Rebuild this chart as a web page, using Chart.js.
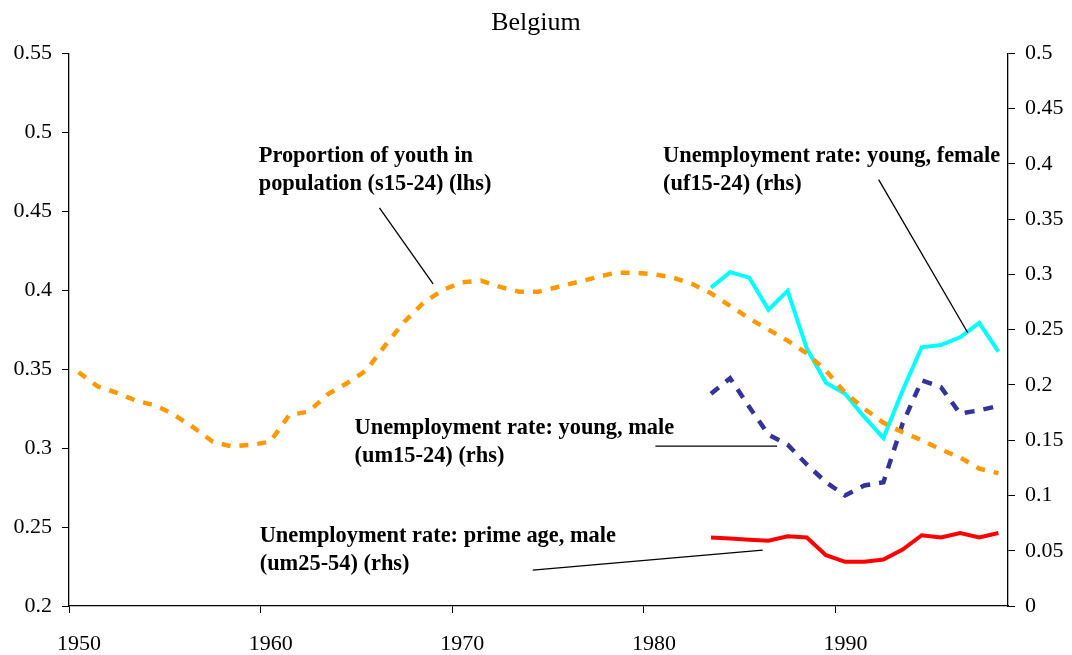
<!DOCTYPE html>
<html>
<head>
<meta charset="utf-8">
<title>Belgium</title>
<script src="https://cdn.jsdelivr.net/npm/chart.js"></script>
<style>
  body { margin: 0; background: #fff; }
  #wrap { width: 1072px; height: 655px; }
</style>
</head>
<body>
<div id="wrap"><canvas id="chart" width="1072" height="655"></canvas></div>
<script>
// Years and series
const youthYears = [1950, 1951, 1952, 1953, 1954, 1955, 1956, 1957, 1958, 1959,
  1960, 1961, 1962, 1963, 1964, 1965, 1966, 1967, 1968, 1969,
  1970, 1971, 1972, 1973, 1974, 1975, 1976, 1977, 1978, 1979,
  1980, 1981, 1982, 1983, 1984, 1985, 1986, 1987, 1988, 1989,
  1990, 1991, 1992, 1993, 1994, 1995, 1996, 1997, 1998];
const youthShare = [0.348, 0.339, 0.335, 0.330, 0.327, 0.321, 0.313, 0.304, 0.301, 0.302,
  0.304, 0.321, 0.323, 0.334, 0.341, 0.349, 0.365, 0.380, 0.392, 0.400,
  0.405, 0.406, 0.402, 0.399, 0.399, 0.402, 0.405, 0.408, 0.411, 0.411,
  0.410, 0.408, 0.404, 0.398, 0.390, 0.382, 0.375, 0.368, 0.360, 0.349,
  0.335, 0.325, 0.316, 0.310, 0.305, 0.299, 0.294, 0.287, 0.284];

const unempYears = [1983, 1984, 1985, 1986, 1987, 1988, 1989, 1990,
  1991, 1992, 1993, 1994, 1995, 1996, 1997, 1998];
const uf1524 = [0.288, 0.302, 0.297, 0.268, 0.285, 0.233, 0.202, 0.192,
  0.171, 0.152, 0.195, 0.234, 0.236, 0.243, 0.256, 0.230];
const um1524 = [0.192, 0.206, 0.180, 0.155, 0.146, 0.128, 0.112, 0.100,
  0.109, 0.112, 0.165, 0.204, 0.198, 0.174, 0.177, 0.181];
const um2554 = [0.062, 0.061, 0.060, 0.059, 0.063, 0.062, 0.046, 0.040,
  0.040, 0.042, 0.051, 0.064, 0.062, 0.066, 0.062, 0.066];

// Excel places each yearly point in the middle of its category
const toPoints = (years, vals) => years.map((y, i) => ({ x: y + 0.5, y: vals[i] }));

// Annotation labels, positioned in (year, lhs value) units
const notes = [
  { lines: ['Proportion of youth in', 'population (s15-24) (lhs)'], x: 1959.9, y: 0.481,
    from: [1966.2, 0.452], to: [1969.0, 0.404] },
  { lines: ['Unemployment rate: young, female', '(uf15-24) (rhs)'], x: 1981.0, y: 0.481,
    from: [1992.25, 0.470], to: [1996.9, 0.373] },
  { lines: ['Unemployment rate: young, male', '(um15-24) (rhs)'], x: 1964.9, y: 0.309,
    from: [1980.6, 0.3012], to: [1986.95, 0.3012] },
  { lines: ['Unemployment rate: prime age, male', '(um25-54) (rhs)'], x: 1959.95, y: 0.2405,
    from: [1974.2, 0.2227], to: [1986.2, 0.2354] }
];

const serif = "'Liberation Serif', 'Times New Roman', serif";

const notePlugin = {
  id: 'notes',
  afterDatasetsDraw(chart) {
    const ctx = chart.ctx;
    const xs = chart.scales.x, ys = chart.scales.y;
    ctx.save();
    ctx.fillStyle = '#000';
    ctx.strokeStyle = '#000';
    ctx.lineWidth = 1.3;
    ctx.font = 'bold 22.4px ' + serif;
    ctx.textBaseline = 'alphabetic';
    notes.forEach(n => {
      const px = xs.getPixelForValue(n.x);
      const py = ys.getPixelForValue(n.y);
      n.lines.forEach((t, i) => ctx.fillText(t, px, py + i * 28));
      ctx.beginPath();
      ctx.moveTo(xs.getPixelForValue(n.from[0]), ys.getPixelForValue(n.from[1]));
      ctx.lineTo(xs.getPixelForValue(n.to[0]), ys.getPixelForValue(n.to[1]));
      ctx.stroke();
    });
    ctx.restore();
  }
};

const trim = v => String(+Number(v).toFixed(2));

new Chart(document.getElementById('chart'), {
  type: 'line',
  data: {
    datasets: [
      {
        label: 'Proportion of youth in population (s15-24) (lhs)',
        data: toPoints(youthYears, youthShare),
        yAxisID: 'y',
        borderColor: '#FF9900',
        borderWidth: 4.5,
        borderDash: [9, 9],
        pointRadius: 0,
        tension: 0
      },
      {
        label: 'Unemployment rate: young, female (uf15-24) (rhs)',
        data: toPoints(unempYears, uf1524),
        yAxisID: 'y2',
        borderColor: '#00FFFF',
        borderWidth: 4,
        pointRadius: 0,
        tension: 0
      },
      {
        label: 'Unemployment rate: young, male (um15-24) (rhs)',
        data: toPoints(unempYears, um1524),
        yAxisID: 'y2',
        borderColor: '#333399',
        borderWidth: 4.5,
        borderDash: [10, 9],
        pointRadius: 0,
        tension: 0
      },
      {
        label: 'Unemployment rate: prime age, male (um25-54) (rhs)',
        data: toPoints(unempYears, um2554),
        yAxisID: 'y2',
        borderColor: '#FF0000',
        borderWidth: 4,
        pointRadius: 0,
        tension: 0
      }
    ]
  },
  options: {
    responsive: false,
    animation: false,
    layout: { padding: 0 },
    plugins: {
      legend: { display: false },
      tooltip: { enabled: false },
      title: {
        display: true,
        text: 'Belgium',
        color: '#000',
        font: { family: serif, size: 26, weight: 'normal' },
        padding: { top: 8, bottom: 14 }
      }
    },
    scales: {
      x: {
        type: 'linear',
        min: 1950,
        max: 1999,
        afterFit: s => { s.height = 49; },
        border: { display: true, color: '#000', width: 1.3 },
        grid: { drawOnChartArea: false, drawTicks: true, tickLength: 7, color: '#000' },
        ticks: {
          stepSize: 10,
          includeBounds: false,
          labelOffset: 10,
          padding: 18,
          color: '#000',
          font: { family: serif, size: 22 },
          maxRotation: 0,
          callback: v => String(v)
        }
      },
      y: {
        position: 'left',
        min: 0.2,
        max: 0.55,
        afterFit: s => { s.width = 69; },
        border: { display: true, color: '#000', width: 1.3 },
        grid: { drawOnChartArea: false, drawTicks: true, tickLength: 7, color: '#000' },
        ticks: {
          stepSize: 0.05,
          padding: 10,
          color: '#000',
          font: { family: serif, size: 22 },
          callback: trim
        }
      },
      y2: {
        position: 'right',
        min: 0,
        max: 0.5,
        afterFit: s => { s.width = 64; },
        border: { display: true, color: '#000', width: 1.3 },
        grid: { drawOnChartArea: false, drawTicks: true, tickLength: 7, color: '#000' },
        ticks: {
          stepSize: 0.05,
          padding: 10,
          color: '#000',
          font: { family: serif, size: 22 },
          callback: trim
        }
      }
    }
  },
  plugins: [notePlugin]
});
</script>
</body>
</html>
